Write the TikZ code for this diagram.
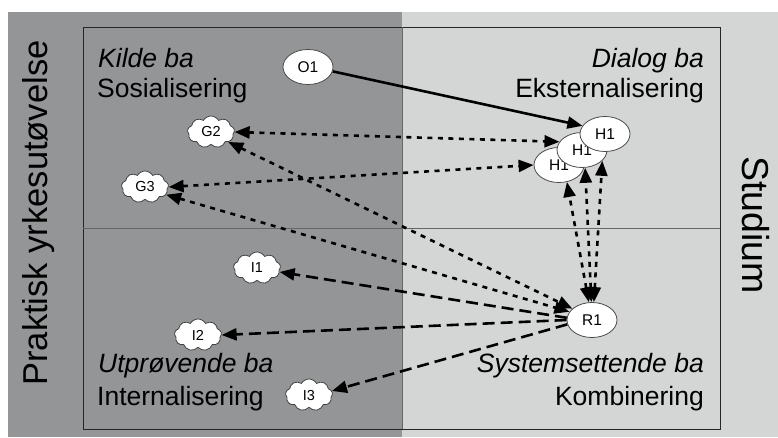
\documentclass[tikz,border=0pt]{standalone}
\usepackage{fontspec}
\setmainfont{Liberation Sans}
\usetikzlibrary{shapes.geometric,shapes.symbols,arrows.meta}
\definecolor{darkbg}{RGB}{147,149,150}
\definecolor{lightbg}{RGB}{212,213,213}
\pgfdeclarelayer{bg}
\pgfdeclarelayer{edges}
\pgfsetlayers{bg,edges,main}
\begin{document}
\begin{tikzpicture}[x=1pt,y=-1pt,
  >={Triangle[length=15pt,width=12pt]},
  ell/.style={ellipse,draw=black!70,fill=white,line width=0.8pt,minimum width=50pt,minimum height=35pt,inner sep=0pt,font=\fontsize{15.5}{15.5}\selectfont},
  cld/.style={cloud,cloud puffs=9,cloud puff arc=120,aspect=1.5,draw=black!75,fill=white,line width=0.8pt,minimum width=47pt,minimum height=32pt,inner sep=0pt,font=\fontsize{14.5}{14.5}\selectfont},
  dotline/.style={line width=2.6pt,dash pattern=on 5pt off 5.5pt},
  dashline/.style={line width=2.6pt,dash pattern=on 12pt off 6pt},
  solidline/.style={line width=2.6pt},
  lbl/.style={font=\fontsize{26.5}{26.5}\selectfont,inner sep=0pt},
  side/.style={font=\fontsize{34.5}{34.5}\selectfont,inner sep=0pt},
  sidebig/.style={font=\fontsize{37.5}{37.5}\selectfont,inner sep=0pt}
]
\useasboundingbox (0,0) rectangle (778,437);
\begin{pgfonlayer}{bg}
\fill[darkbg] (8,12) rectangle (402,437);
\fill[lightbg] (402,12) rectangle (778,437);
\draw[black!85,line width=0.8pt] (83,27) rectangle (720,429);
\draw[black!60,line width=1pt] (83,228) -- (720,228);
\draw[black!60,line width=1pt] (402,27) -- (402,429);
\end{pgfonlayer}

% side labels
\node[side,rotate=90,anchor=base] (prak) at (47,213) {Praktisk yrkesutøvelse};
\node[sidebig,rotate=-90,anchor=base] (stud) at (742,225) {Studium};

% quadrant labels
\node[lbl,anchor=base west] (kilde) at (98,67) {\itshape Kilde ba};
\node[lbl,anchor=base west] (sos) at (97,97) {Sosialisering};
\node[lbl,anchor=base east] (dialog) at (704,67) {\itshape Dialog ba};
\node[lbl,anchor=base east] (eks) at (704,97) {Eksternalisering};
\node[lbl,anchor=base west] (utp) at (98,372) {\itshape Utprøvende ba};
\node[lbl,anchor=base west] (int) at (97,405) {Internalisering};
\node[lbl,anchor=base east] (sys) at (704,372) {\itshape Systemsettende ba};
\node[lbl,anchor=base east] (komb) at (704,405) {Kombinering};

% nodes
\node[ell] (O1) at (308,67) {O1};
\node[cld] (G2) at (211,132) {G2};
\node[cld] (G3) at (145,187) {G3};
\node[ell] (H1a) at (559,165) {H1};
\node[ell] (H1b) at (582,150) {H1};
\node[ell] (H1c) at (605,134) {H1};
\node[ell] (R1) at (592,320) {R1};
\node[cld] (I1) at (257,268) {I1};
\node[cld] (I2) at (198,335) {I2};
\node[cld] (I3) at (309,395) {I3};

\begin{pgfonlayer}{edges}
\draw[solidline,->] (O1.-10) -- (H1c.160);
\draw[dotline,<->] (G2.east) -- (H1b.160);
\draw[dotline,<->] (G3.east) -- (H1a.west);
\draw[dotline,<->] (G2.-30) -- (R1.150);
\draw[dotline,<->] (G3.-20) -- (R1.160);
\draw[dotline,<->] (R1.100) -- (H1a.-65);
\draw[dotline,<->] (R1.92) -- (H1b.-80);
\draw[dotline,<->] (R1.84) -- (H1b.-28);
\draw[dashline,->] (R1.175) -- (I1.-10);
\draw[dashline,->] (R1.west) -- (I2.east);
\draw[dashline,->] (R1.190) -- (I3.10);
\end{pgfonlayer}
\end{tikzpicture}
\end{document}
